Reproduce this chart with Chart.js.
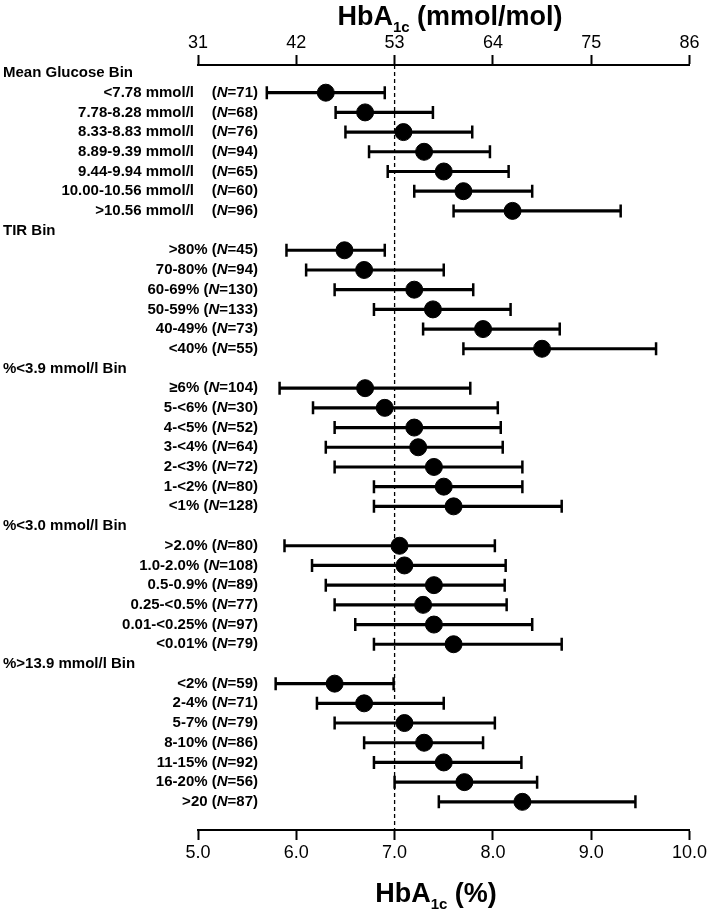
<!DOCTYPE html>
<html>
<head>
<meta charset="utf-8">
<script src="https://cdn.jsdelivr.net/npm/chart.js@4/dist/chart.umd.min.js"></script>
<style>
  html, body { margin: 0; padding: 0; background: #fff; }
  canvas { display: block; }
</style>
</head>
<body>
<canvas id="forest" width="709" height="911"></canvas>
<script>
// group headings
const groupTitles = ['Mean Glucose Bin', 'TIR Bin', '%<3.9 mmol/l Bin', '%<3.0 mmol/l Bin', '%>13.9 mmol/l Bin'];

// mean glucose bins
const glucoseBins = ['<7.78 mmol/l', '7.78-8.28 mmol/l', '8.33-8.83 mmol/l', '8.89-9.39 mmol/l', '9.44-9.94 mmol/l', '10.00-10.56 mmol/l', '>10.56 mmol/l'];
const glucoseN = [71, 68, 76, 94, 65, 60, 96];
const glucoseMean = [6.30, 6.70, 7.09, 7.30, 7.50, 7.70, 8.20];
const glucoseLow = [5.70, 6.40, 6.50, 6.74, 6.93, 7.20, 7.60];
const glucoseHigh = [6.90, 7.39, 7.79, 7.97, 8.16, 8.40, 9.30];

// time in range bins
const tirBins = ['>80%', '70-80%', '60-69%', '50-59%', '40-49%', '<40%'];
const tirN = [45, 94, 130, 133, 73, 55];
const tirMean = [6.49, 6.69, 7.20, 7.39, 7.90, 8.50];
const tirLow = [5.90, 6.10, 6.39, 6.79, 7.29, 7.70];
const tirHigh = [6.90, 7.50, 7.80, 8.18, 8.68, 9.66];

// % time < 3.9 mmol/l
const below39Bins = ['\u22656%', '5-<6%', '4-<5%', '3-<4%', '2-<3%', '1-<2%', '<1%'];
const below39N = [104, 30, 52, 64, 72, 80, 128];
const below39Mean = [6.70, 6.90, 7.20, 7.24, 7.40, 7.50, 7.60];
const below39Low = [5.83, 6.17, 6.39, 6.30, 6.39, 6.79, 6.79];
const below39High = [7.77, 8.05, 8.08, 8.10, 8.30, 8.30, 8.70];

// % time < 3.0 mmol/l
const below30Bins = ['>2.0%', '1.0-2.0%', '0.5-0.9%', '0.25-<0.5%', '0.01-<0.25%', '<0.01%'];
const below30N = [80, 108, 89, 77, 97, 79];
const below30Mean = [7.05, 7.10, 7.40, 7.29, 7.40, 7.60];
const below30Low = [5.88, 6.16, 6.30, 6.39, 6.60, 6.79];
const below30High = [8.02, 8.13, 8.12, 8.14, 8.40, 8.70];

// % time > 13.9 mmol/l
const above139Bins = ['<2%', '2-4%', '5-7%', '8-10%', '11-15%', '16-20%', '>20'];
const above139N = [59, 71, 79, 86, 92, 56, 87];
const above139Mean = [6.39, 6.69, 7.10, 7.30, 7.50, 7.71, 8.30];
const above139Low = [5.79, 6.21, 6.39, 6.69, 6.79, 7.00, 7.45];
const above139High = [6.99, 7.50, 8.02, 7.90, 8.29, 8.45, 9.45];

// axis ticks
const pctTicks = [5, 6, 7, 8, 9, 10];
const mmolTicks = [31, 42, 53, 64, 75, 86];
const targetHbA1c = 7.0;

const groups = [
  { bins: glucoseBins, n: glucoseN, mean: glucoseMean, low: glucoseLow, high: glucoseHigh },
  { bins: tirBins, n: tirN, mean: tirMean, low: tirLow, high: tirHigh },
  { bins: below39Bins, n: below39N, mean: below39Mean, low: below39Low, high: below39High },
  { bins: below30Bins, n: below30N, mean: below30Mean, low: below30Low, high: below30High },
  { bins: above139Bins, n: above139N, mean: above139Mean, low: above139Low, high: above139High }
];

// one row per heading and per bin, top to bottom
const rows = [];
const means = [], lows = [], highs = [], whiskers = [];
groups.forEach((g, gi) => {
  rows.push({ header: true, text: groupTitles[gi] });
  g.bins.forEach((bin, j) => {
    const r = rows.length;
    rows.push({ text: bin, n: g.n[j], group: gi });
    means.push({ x: g.mean[j], y: r });
    lows.push({ x: g.low[j], y: r });
    highs.push({ x: g.high[j], y: r });
    whiskers.push({ y: r, x: [g.low[j], g.high[j]] });
  });
});

const FONT = "'Liberation Sans', Arial, sans-serif";

function drawHbA1c(ctx, cx, baseline, tail) {
  const big = 'bold 27px ' + FONT;
  const small = 'bold 15px ' + FONT;
  ctx.font = big;
  const w1 = ctx.measureText('HbA').width;
  const w3 = ctx.measureText(tail).width;
  ctx.font = small;
  const w2 = ctx.measureText('1c').width;
  let x = cx - (w1 + w2 + w3) / 2;
  ctx.textAlign = 'left';
  ctx.textBaseline = 'alphabetic';
  ctx.font = big;
  ctx.fillText('HbA', x, baseline);
  x += w1;
  ctx.font = small;
  ctx.fillText('1c', x, baseline + 7);
  x += w2;
  ctx.font = big;
  ctx.fillText(tail, x, baseline);
}

const forestText = {
  id: 'forestText',
  beforeDatasetsDraw(chart) {
    const { ctx, chartArea, scales } = chart;
    const px = scales.x.getPixelForValue(targetHbA1c);
    ctx.save();
    ctx.strokeStyle = '#000';
    ctx.lineWidth = 1.3;
    ctx.setLineDash([4, 3]);
    ctx.beginPath();
    ctx.moveTo(px, chartArea.top);
    ctx.lineTo(px, chartArea.bottom);
    ctx.stroke();
    ctx.restore();
  },
  afterDraw(chart) {
    const { ctx, scales } = chart;
    const yScale = scales.y;
    ctx.save();
    ctx.fillStyle = '#000';
    rows.forEach((r, i) => {
      const py = yScale.getPixelForValue(i);
      ctx.textBaseline = 'middle';
      if (r.header) {
        ctx.font = 'bold 15px ' + FONT;
        ctx.textAlign = 'left';
        ctx.fillText(r.text, 3, py);
        return;
      }
      const parts = [['bold 15px ', '('], ['italic bold 15px ', 'N'], ['bold 15px ', '=' + r.n + ')']];
      let xr = 258;
      ctx.textAlign = 'right';
      for (let k = parts.length - 1; k >= 0; k--) {
        ctx.font = parts[k][0] + FONT;
        ctx.fillText(parts[k][1], xr, py);
        xr -= ctx.measureText(parts[k][1]).width;
      }
      ctx.font = 'bold 15px ' + FONT;
      const lx = r.group === 0 ? 194 : xr - ctx.measureText(' ').width;
      ctx.fillText(r.text, lx, py);
    });
    drawHbA1c(ctx, 450, 25, ' (mmol/mol)');
    drawHbA1c(ctx, 436, 902, ' (%)');
    ctx.restore();
  }
};

new Chart(document.getElementById('forest'), {
  type: 'scatter',
  data: {
    datasets: [
      {
        label: 'Mean',
        data: means,
        pointRadius: 8.5,
        pointHoverRadius: 8.5,
        pointBackgroundColor: '#000',
        pointBorderColor: '#000',
        pointBorderWidth: 1
      },
      {
        label: 'Lower',
        data: lows,
        pointStyle: 'line',
        rotation: 90,
        pointRadius: 6.5,
        pointBorderColor: '#000',
        pointBorderWidth: 2.5
      },
      {
        label: 'Upper',
        data: highs,
        pointStyle: 'line',
        rotation: 90,
        pointRadius: 6.5,
        pointBorderColor: '#000',
        pointBorderWidth: 2.5
      },
      {
        type: 'bar',
        label: 'Range',
        indexAxis: 'y',
        data: whiskers,
        barThickness: 2.5,
        backgroundColor: '#000',
        borderWidth: 0
      }
    ]
  },
  options: {
    responsive: false,
    animation: false,
    layout: { padding: { left: 198, right: 18, top: 0, bottom: 0 } },
    plugins: {
      legend: { display: false },
      tooltip: { enabled: false }
    },
    scales: {
      x: {
        type: 'linear',
        position: 'bottom',
        min: pctTicks[0],
        max: pctTicks[pctTicks.length - 1],
        afterBuildTicks: (s) => { s.ticks = pctTicks.map(v => ({ value: v })); },
        ticks: {
          color: '#000',
          padding: 2,
          font: { family: FONT, size: 18 },
          callback: (v) => Number(v).toFixed(1)
        },
        grid: { drawOnChartArea: false, drawTicks: true, tickLength: 10, tickColor: '#000', tickWidth: 2 },
        border: { display: true, color: '#000', width: 2 },
        afterFit: (s) => { s.height = 81; }
      },
      x2: {
        type: 'linear',
        position: 'top',
        min: mmolTicks[0],
        max: mmolTicks[mmolTicks.length - 1],
        afterBuildTicks: (s) => { s.ticks = mmolTicks.map(v => ({ value: v })); },
        ticks: {
          color: '#000',
          padding: 1,
          font: { family: FONT, size: 18 }
        },
        grid: { drawOnChartArea: false, drawTicks: true, tickLength: 10, tickColor: '#000', tickWidth: 2 },
        border: { display: true, color: '#000', width: 2 },
        afterFit: (s) => { s.height = 65; }
      },
      y: {
        type: 'linear',
        display: false,
        reverse: true,
        offset: false,
        grid: { offset: false },
        min: -0.406,
        max: 38.43
      }
    }
  },
  plugins: [forestText]
});
</script>
</body>
</html>
